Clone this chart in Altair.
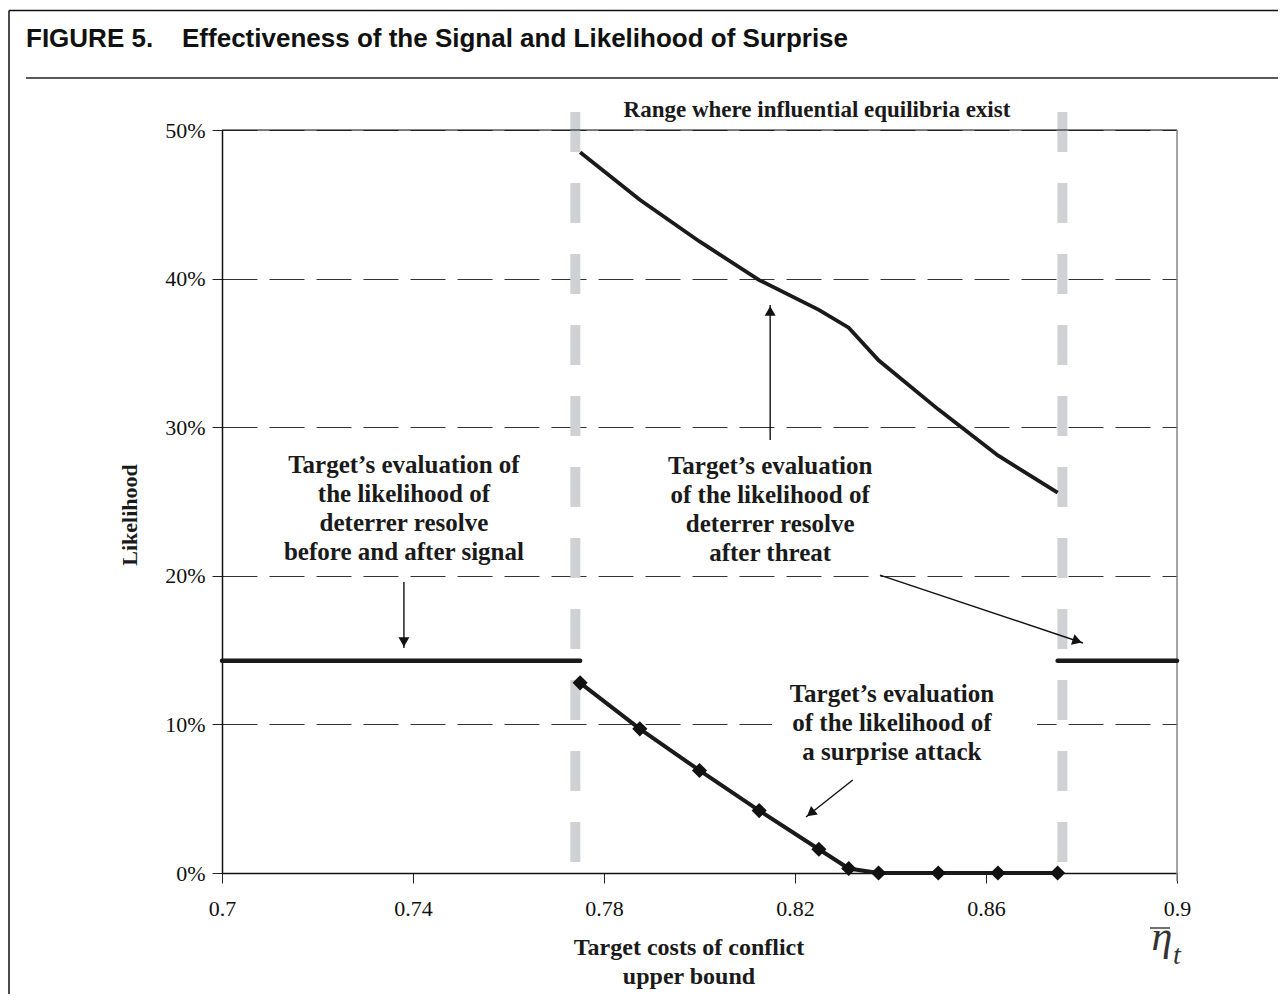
import math
import altair as alt
import pandas as pd

# ---------------- data ----------------
x_threat = [0.775, 0.7875, 0.8, 0.8125, 0.825, 0.83125, 0.8375, 0.85, 0.8625, 0.875]
y_threat = [0.485, 0.453, 0.425, 0.399, 0.379, 0.367, 0.345, 0.312, 0.281, 0.256]

x_surprise = [0.775, 0.7875, 0.8, 0.8125, 0.825, 0.83125, 0.8375, 0.85, 0.8625, 0.875]
y_surprise = [0.128, 0.097, 0.069, 0.042, 0.016, 0.003, 0.0, 0.0, 0.0, 0.0]

x_signal = [0.7, 0.775, 0.875, 0.9]
y_signal = [1 / 7, 1 / 7, 1 / 7, 1 / 7]
seg_signal = ["before", "before", "after", "after"]

range_bounds = [0.774, 0.876]

x_ticks = [0.7, 0.74, 0.78, 0.82, 0.86, 0.9]
y_ticks = [0.0, 0.1, 0.2, 0.3, 0.4, 0.5]

# annotation texts (one row per line)
ann_text = [
    "Target\u2019s evaluation of", "the likelihood of", "deterrer resolve", "before and after signal",
    "Target\u2019s evaluation", "of the likelihood of", "deterrer resolve", "after threat",
    "Target\u2019s evaluation", "of the likelihood of", "a surprise attack",
]
ann_x = [0.7381] * 4 + [0.8148] * 4 + [0.8403] * 3
ann_y = [0.2746, 0.2551, 0.2355, 0.2160,
         0.2739, 0.2544, 0.2349, 0.2154,
         0.1205, 0.1010, 0.0814]

# white label box behind the surprise-attack note
box_x = [0.8152]
box_x2 = [0.8707]
box_y = [0.071]
box_y2 = [0.134]

# arrows: start -> tip
arr_x0 = [0.7381, 0.8148, 0.8378, 0.8321]
arr_y0 = [0.1958, 0.2914, 0.2005, 0.0626]
arr_x1 = [0.7381, 0.8148, 0.8803, 0.8223]
arr_y1 = [0.1514, 0.3822, 0.1548, 0.0377]

W, H = 955, 743
XD = (0.7, 0.9)
YD = (0.0, 0.5)
px_x = W / (XD[1] - XD[0])
px_y = H / (YD[1] - YD[0])

serif = "Liberation Serif"
sans = "Liberation Sans"

xs = alt.Scale(domain=list(XD), nice=False, zero=False)
ys = alt.Scale(domain=list(YD), nice=False, zero=False)

# ---------------- frames ----------------
threat_df = pd.DataFrame({"x": x_threat, "y": y_threat})
surprise_df = pd.DataFrame({"x": x_surprise, "y": y_surprise})
signal_df = pd.DataFrame({"x": x_signal, "y": y_signal, "seg": seg_signal})
bounds_df = pd.DataFrame({"x": range_bounds})
ann_df = pd.DataFrame({"x": ann_x, "y": ann_y, "t": ann_text})
box_df = pd.DataFrame({"x": box_x, "x2": box_x2, "y": box_y, "y2": box_y2})

heads = []
for a, b, c, d in zip(arr_x0, arr_y0, arr_x1, arr_y1):
    dx = (c - a) * px_x
    dy = -(d - b) * px_y
    L = math.hypot(dx, dy)
    ux, uy = dx / L, dy / L
    back = 6.0
    hx = c - ux * back / px_x
    hy = d + uy * back / px_y
    ang = (math.degrees(math.atan2(dx, -dy))) % 360
    heads.append({"x": hx, "y": hy, "ang": ang})
arrows_df = pd.DataFrame({"x": arr_x0, "y": arr_y0, "x2": arr_x1, "y2": arr_y1})
heads_df = pd.DataFrame(heads)

base_x = alt.X("x:Q", scale=xs,
               axis=alt.Axis(values=x_ticks, format=".2~f", title=None, grid=False,
                             labelFont=serif, labelFontSize=22, labelColor="#111",
                             tickColor="#222", tickSize=10, domainColor="#111",
                             domainWidth=1.5, labelPadding=15, labelFlush=False))
base_y = alt.Y("y:Q", scale=ys,
               axis=alt.Axis(values=y_ticks, format=".0%", title=None, grid=True,
                             gridDash=[35, 12], gridColor="#333", gridWidth=1,
                             labelFont=serif, labelFontSize=22, labelColor="#111",
                             tickColor="#222", tickSize=10, domainColor="#111",
                             domainWidth=1.5, labelPadding=7, labelFlush=False))

axes_layer = alt.Chart(threat_df).mark_point(opacity=0).encode(x=base_x, y=base_y)

box = alt.Chart(box_df).mark_rect(color="white").encode(
    x=alt.X("x:Q", scale=xs), x2="x2:Q", y=alt.Y("y:Q", scale=ys), y2="y2:Q")

bounds = alt.Chart(bounds_df).mark_rule(
    color="#d0d1d4", strokeWidth=10, strokeDash=[40, 31], clip=False
).encode(x=alt.X("x:Q", scale=xs), y=alt.value(-18), y2=alt.value(H))

top_rule = alt.Chart(pd.DataFrame({"y": [0.5]})).mark_rule(color="#111", strokeWidth=1.2).encode(
    y=alt.Y("y:Q", scale=ys), x=alt.value(0), x2=alt.value(W))
right_rule = alt.Chart(pd.DataFrame({"x": [0.9]})).mark_rule(color="#888", strokeWidth=1.5).encode(
    x=alt.X("x:Q", scale=xs), y=alt.value(0), y2=alt.value(H + 8))

threat = alt.Chart(threat_df).mark_line(color="#1a1a1a", strokeWidth=3.8).encode(
    x=alt.X("x:Q", scale=xs), y=alt.Y("y:Q", scale=ys))
surprise = alt.Chart(surprise_df).mark_line(color="#1a1a1a", strokeWidth=4).encode(
    x=alt.X("x:Q", scale=xs), y=alt.Y("y:Q", scale=ys))
surprise_pts = alt.Chart(surprise_df).mark_point(
    shape="diamond", filled=True, color="#111", size=230, opacity=1).encode(
    x=alt.X("x:Q", scale=xs), y=alt.Y("y:Q", scale=ys))
signal = alt.Chart(signal_df).mark_line(color="#1a1a1a", strokeWidth=4.5, strokeCap="round").encode(
    x=alt.X("x:Q", scale=xs), y=alt.Y("y:Q", scale=ys), detail="seg:N")

arrows = alt.Chart(arrows_df).mark_rule(color="#111", strokeWidth=1.4).encode(
    x=alt.X("x:Q", scale=xs), y=alt.Y("y:Q", scale=ys), x2="x2:Q", y2="y2:Q")
arrow_heads = alt.Chart(heads_df).mark_point(
    shape="triangle-up", filled=True, color="#111", size=120, opacity=1).encode(
    x=alt.X("x:Q", scale=xs), y=alt.Y("y:Q", scale=ys), angle=alt.Angle("ang:Q", scale=None))

ann = alt.Chart(ann_df).mark_text(
    font=serif, fontSize=25, fontWeight="bold", color="#1a1a1a", align="center", baseline="middle"
).encode(x=alt.X("x:Q", scale=xs), y=alt.Y("y:Q", scale=ys), text="t:N")

range_txt = alt.Chart(pd.DataFrame({"x": [0.8246], "y": [0.5135], "t": ["Range where influential equilibria exist"]})).mark_text(
    font=serif, fontSize=23, fontWeight="bold", color="#1a1a1a", align="center", baseline="middle", clip=False
).encode(x=alt.X("x:Q", scale=xs), y=alt.Y("y:Q", scale=ys), text="t:N")

def vtext(txt, x, y, **kw):
    return alt.Chart(pd.DataFrame({"t": [txt]})).mark_text(**kw).encode(
        x=alt.value(x), y=alt.value(y), text="t:N")

nb = "\u00a0"
title = vtext("FIGURE 5." + nb * 4 + "Effectiveness of the Signal and Likelihood of Surprise", -196, -91,
              font=sans, fontSize=26, fontWeight="bold", color="#111", align="left", baseline="middle")
ylab = vtext("Likelihood", -92, 385, font=serif, fontSize=22, fontWeight="bold", color="#1a1a1a",
             angle=270, align="center", baseline="middle")
xlab1 = vtext("Target costs of conflict", 467, 818, font=serif, fontSize=24, fontWeight="bold",
              color="#1a1a1a", align="center", baseline="middle")
xlab2 = vtext("upper bound", 467, 847, font=serif, fontSize=24, fontWeight="bold",
              color="#1a1a1a", align="center", baseline="middle")
eta = vtext("\u03b7", 940, 820, font=serif, fontSize=42, fontStyle="italic", color="#333",
            align="center", baseline="alphabetic")
eta_t = vtext("t", 955, 834, font=serif, fontSize=28, fontStyle="italic", color="#333",
              align="center", baseline="alphabetic")

def hrule(x1, x2, y, color="#111", w=1.5):
    return alt.Chart(pd.DataFrame({"a": [0]})).mark_rule(color=color, strokeWidth=w).encode(
        x=alt.value(x1), x2=alt.value(x2), y=alt.value(y))

def vrule(x, y1, y2, color="#111", w=1.5):
    return alt.Chart(pd.DataFrame({"a": [0]})).mark_rule(color=color, strokeWidth=w).encode(
        x=alt.value(x), y=alt.value(y1), y2=alt.value(y2))

overline = hrule(928, 948, 798, color="#444", w=1.5)
frame_top = hrule(-213, 1060, -119.5, w=1.5)
frame_left = vrule(-213, -119.5, 870, w=1.5)
separator = hrule(-196, 1060, -52, color="#222", w=1.5)

chart = alt.layer(
    axes_layer, box, bounds, top_rule, right_rule, signal, threat, surprise, surprise_pts,
    arrows, arrow_heads, ann, range_txt, title, ylab, xlab1, xlab2, eta, eta_t, overline,
    frame_top, frame_left, separator,
).properties(
    width=W, height=H,
    autosize=alt.AutoSizeParams(type="none"),
    padding={"left": 214, "top": 122, "right": 101, "bottom": 121},
).configure_view(stroke=None).configure(background="white")

chart.save("out.html", embed_options={"renderer": "svg", "actions": False})
